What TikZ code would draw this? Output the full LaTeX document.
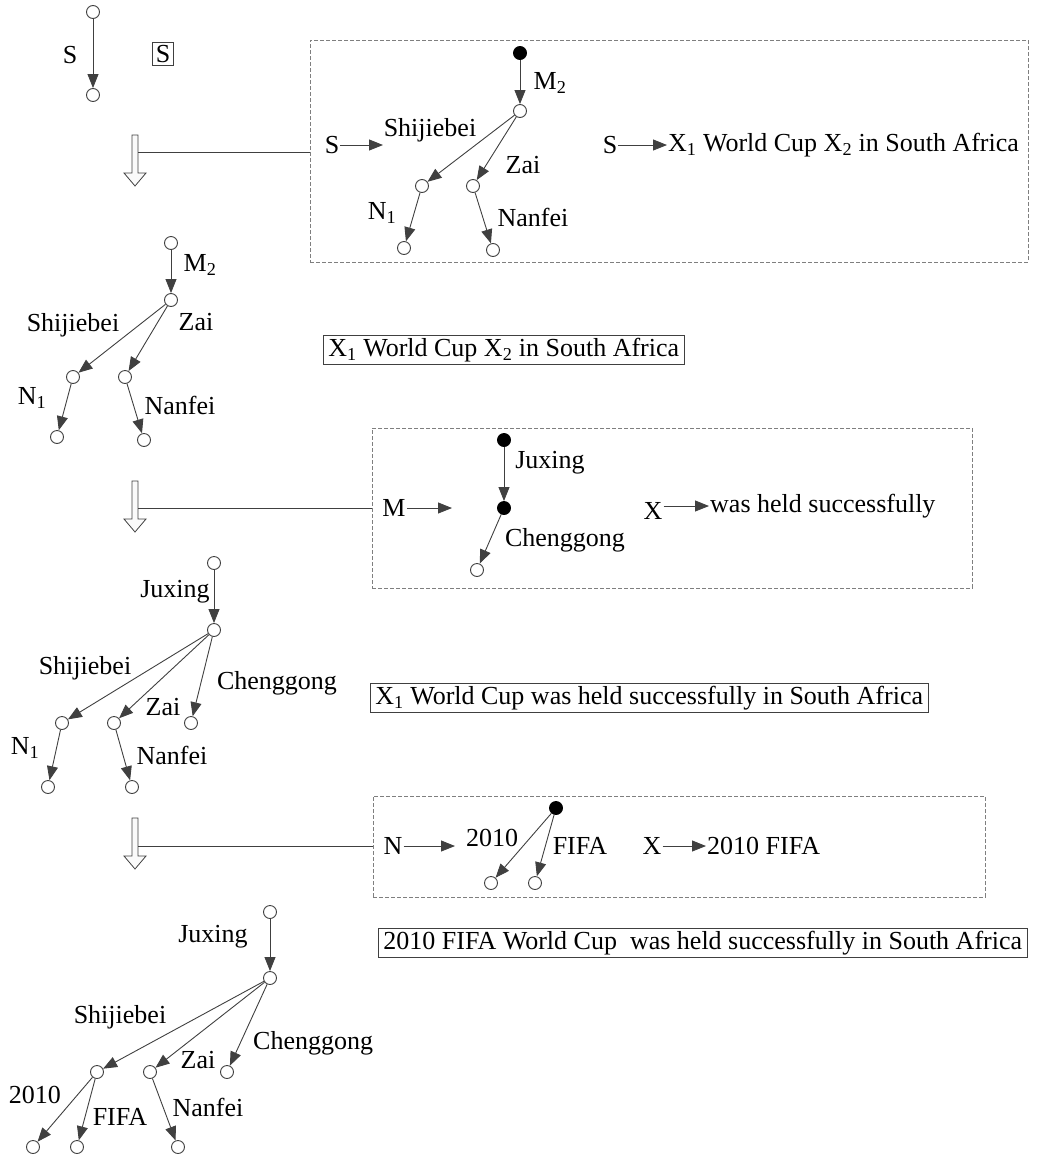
\documentclass[tikz,border=0pt]{standalone}
\usepackage{fontspec}
\setmainfont{Liberation Serif}
\usetikzlibrary{arrows.meta}
\definecolor{edgegray}{HTML}{404040}
\definecolor{dashgray}{HTML}{7F7F7F}

\begin{document}
\begin{tikzpicture}[x=1pt,y=-1pt,
  font=\fontsize{26}{30}\selectfont,
  vtx/.style={circle,draw=edgegray,fill=white,line width=0.9pt,minimum size=13pt,inner sep=0pt},
  fvtx/.style={vtx,draw=black,fill=black},
  lbl/.style={inner sep=1pt},
  edge/.style={-{Triangle[length=14pt,width=11pt]},edgegray,line width=0.9pt},
  tbox/.style={draw=edgegray,line width=0.9pt,inner xsep=5pt,inner ysep=2.5pt,anchor=west},
  dbox/.style={draw=dashgray,dash pattern=on 4pt off 2pt,line width=0.9pt,inner sep=0pt}]
  \useasboundingbox (0,0) rectangle (1057,1157);

  % start symbol
  \node[vtx] (a0) at (93,12) {};
  \node[vtx] (a1) at (93,95) {};
  \draw[edge] (a0) -- (a1);
  \node[lbl] (aS) at (70,55) {S};
  \node[tbox,anchor=center,inner xsep=3pt] (abox) at (163,54) {S};

  % hollow arrows and links to the rule boxes
  \foreach \t/\n in {135/1,481/2,818/3}
    \draw[edgegray,line width=0.8pt,fill=gray!4] (132,\t) -- (138,\t) -- (138,{\t+38}) -- (146,{\t+38})
      -- (135,{\t+51}) -- (124,{\t+38}) -- (132,{\t+38}) -- cycle;
  \coordinate (h1) at (138,152);
  \coordinate (h2) at (138,508);
  \coordinate (h3) at (138,846);

  % rule 1
  \node[dbox,minimum width=718pt,minimum height=222pt] (box1) at (669,151) {};
  \draw[edgegray,line width=0.9pt] (h1) -- (h1 -| box1.west);
  \node[lbl] (bS1) at (332,145) {S};
  \coordinate (bS1tip) at (383,145);
  \draw[edge] (bS1) -- (bS1tip);
  \node[fvtx] (b0) at (520,53) {};
  \node[vtx] (b1) at (520,111) {};
  \node[vtx] (b2) at (422,186) {};
  \node[vtx] (b3) at (473,186) {};
  \node[vtx] (b4) at (404,248) {};
  \node[vtx] (b5) at (493,250) {};
  \foreach \u/\v in {b0/b1,b1/b2,b1/b3,b2/b4,b3/b5}
    \draw[edge] (\u) -- (\v);
  \node[lbl] (bM) at (550,83) {M\textsubscript{2}};
  \node[lbl] (bShi) at (430,130) {Shijiebei};
  \node[lbl] (bZai) at (523,165) {Zai};
  \node[lbl] (bN) at (382,213) {N\textsubscript{1}};
  \node[lbl] (bNan) at (533,217) {Nanfei};
  \node[lbl] (bS2) at (610,145) {S};
  \node[lbl,anchor=west] (btxt) at (667,145) {X\textsubscript{1} World Cup X\textsubscript{2} in South Africa};
  \draw[edge] (bS2) -- (btxt);

  % tree after rule 1
  \node[vtx] (c0) at (171,243) {};
  \node[vtx] (c1) at (171,300) {};
  \node[vtx] (c2) at (73,377) {};
  \node[vtx] (c3) at (125,377) {};
  \node[vtx] (c4) at (57,437) {};
  \node[vtx] (c5) at (144,440) {};
  \foreach \u/\v in {c0/c1,c1/c2,c1/c3,c2/c4,c3/c5}
    \draw[edge] (\u) -- (\v);
  \node[lbl] (cM) at (200,265) {M\textsubscript{2}};
  \node[lbl] (cShi) at (73,325) {Shijiebei};
  \node[lbl] (cZai) at (196,322) {Zai};
  \node[lbl] (cN) at (32,398) {N\textsubscript{1}};
  \node[lbl] (cNan) at (180,405) {Nanfei};
  \node[tbox] (ctxt) at (323,350) {X\textsubscript{1} World Cup X\textsubscript{2} in South Africa};

  % rule 2
  \node[dbox,minimum width=600pt,minimum height=160pt] (box2) at (672,508) {};
  \draw[edgegray,line width=0.9pt] (h2) -- (h2 -| box2.west);
  \node[lbl] (dM) at (394,508) {M};
  \coordinate (dMtip) at (452,508);
  \draw[edge] (dM) -- (dMtip);
  \node[fvtx] (d0) at (504,440) {};
  \node[fvtx] (d1) at (504,508) {};
  \node[vtx] (d2) at (477,570) {};
  \foreach \u/\v in {d0/d1,d1/d2}
    \draw[edge] (\u) -- (\v);
  \node[lbl] (dJux) at (550,463) {Juxing};
  \node[lbl] (dChe) at (565,540) {Chenggong};
  \node[lbl] (dX) at (653,511) {X};
  \node[lbl,anchor=west] (dtxt) at (709,506) {was held successfully};
  \draw[edge] (dX.east |- dtxt.west) -- (dtxt.west);

  % tree after rule 2
  \node[vtx] (e0) at (214,563) {};
  \node[vtx] (e1) at (214,630) {};
  \node[vtx] (e2) at (62,723) {};
  \node[vtx] (e3) at (114,723) {};
  \node[vtx] (e4) at (191,723) {};
  \node[vtx] (e5) at (48,787) {};
  \node[vtx] (e6) at (132,787) {};
  \foreach \u/\v in {e0/e1,e1/e2,e1/e3,e1/e4,e2/e5,e3/e6}
    \draw[edge] (\u) -- (\v);
  \node[lbl] (eJux) at (175,592) {Juxing};
  \node[lbl] (eShi) at (85,668) {Shijiebei};
  \node[lbl] (eZai) at (163,707) {Zai};
  \node[lbl] (eChe) at (277,683) {Chenggong};
  \node[lbl] (eN) at (25,748) {N\textsubscript{1}};
  \node[lbl] (eNan) at (172,755) {Nanfei};
  \node[tbox] (etxt) at (370,698) {X\textsubscript{1} World Cup was held successfully in South Africa};

  % rule 3
  \node[dbox,minimum width=612pt,minimum height=101pt] (box3) at (679,846.5) {};
  \draw[edgegray,line width=0.9pt] (h3) -- (h3 -| box3.west);
  \node[lbl] (fN) at (393,846) {N};
  \coordinate (fNtip) at (455,846);
  \draw[edge] (fN) -- (fNtip);
  \node[fvtx] (f0) at (556,808) {};
  \node[vtx] (f1) at (491,883) {};
  \node[vtx] (f2) at (535,883) {};
  \foreach \u/\v in {f0/f1,f0/f2}
    \draw[edge] (\u) -- (\v);
  \node[lbl] (f2010) at (492,838) {2010};
  \node[lbl] (fFIFA) at (580,846) {FIFA};
  \node[lbl] (fX) at (652,846) {X};
  \node[lbl,anchor=west] (ftxt) at (706,846) {2010 FIFA};
  \draw[edge] (fX) -- (ftxt);

  % final tree
  \node[vtx] (g0) at (270,912) {};
  \node[vtx] (g1) at (270,978) {};
  \node[vtx] (g2) at (97,1072) {};
  \node[vtx] (g3) at (150,1072) {};
  \node[vtx] (g4) at (227,1072) {};
  \node[vtx] (g5) at (33,1147) {};
  \node[vtx] (g6) at (77,1147) {};
  \node[vtx] (g7) at (178,1147) {};
  \foreach \u/\v in {g0/g1,g1/g2,g1/g3,g1/g4,g2/g5,g2/g6,g3/g7}
    \draw[edge] (\u) -- (\v);
  \node[lbl] (gJux) at (213,937) {Juxing};
  \node[lbl] (gShi) at (120,1017) {Shijiebei};
  \node[lbl] (gZai) at (198,1060) {Zai};
  \node[lbl,anchor=west] (gChe) at (252,1043) {Chenggong};
  \node[lbl] (g2010) at (35,1095) {2010};
  \node[lbl] (gFIFA) at (120,1117) {FIFA};
  \node[lbl] (gNan) at (208,1107) {Nanfei};
  \node[tbox] (gtxt) at (378,943) {2010 FIFA World Cup\ \ was held successfully in South Africa};
\end{tikzpicture}
\end{document}
